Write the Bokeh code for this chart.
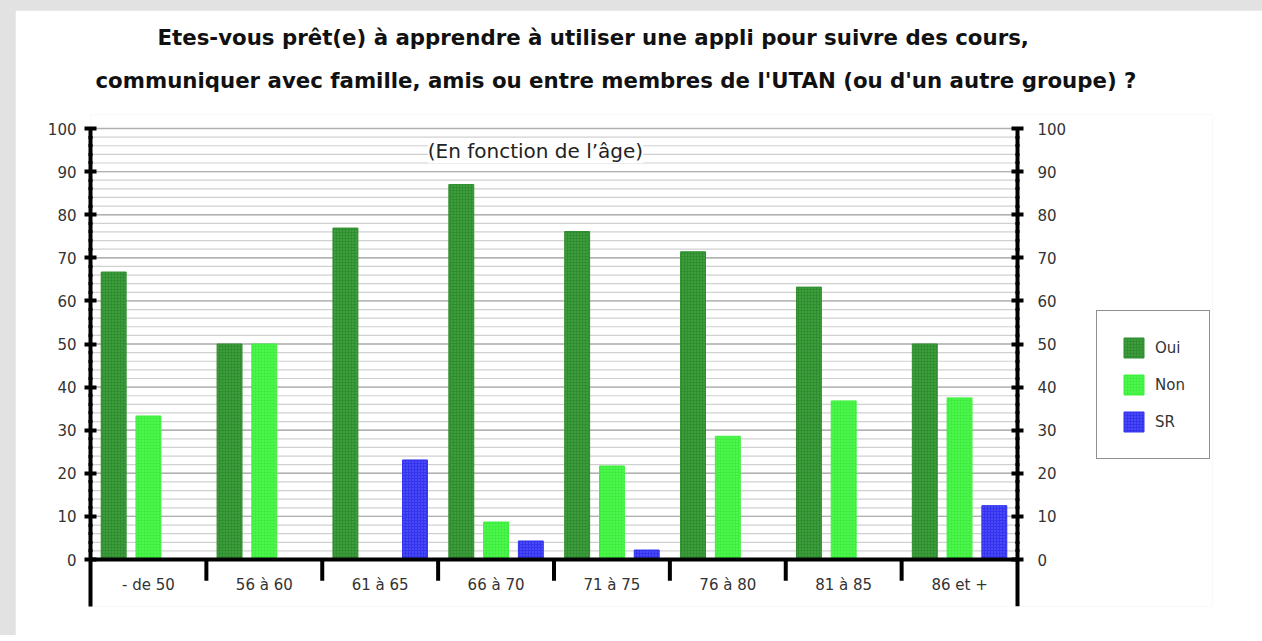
import numpy as np
from bokeh.plotting import figure
from bokeh.models import (Range1d, LinearAxis, FixedTicker, Label, ColumnDataSource,
                          Legend, LegendItem, Title)
from bokeh.layouts import column
from bokeh.core.properties import value
from bokeh.embed import file_html
from bokeh.resources import INLINE

categories = ["- de 50", "56 à 60", "61 à 65", "66 à 70", "71 à 75", "76 à 80", "81 à 85", "86 et +"]
oui = [66.7, 50.0, 76.9, 87.0, 76.1, 71.4, 63.2, 50.0]
non = [33.3, 50.0, 0.0, 8.7, 21.7, 28.6, 36.8, 37.5]
sr = [0.0, 0.0, 23.1, 4.3, 2.2, 0.0, 0.0, 12.5]
series_names = ["Oui", "Non", "SR"]
y_ticks = list(range(0, 101, 10))
y_minor = list(range(0, 101, 2))

title_1 = "Etes-vous prêt(e) à apprendre à utiliser une appli pour suivre des cours,"
title_2 = "communiquer avec famille, amis ou entre membres de l'UTAN (ou d'un autre groupe) ?"
subtitle = "(En fonction de l’âge)"

FONT = "DejaVu Sans"
n = len(categories)
centers = np.arange(n) + 0.5

# layout geometry (pixels on the canvas)
W, H = 1247, 625
left_px, right_border = 75, 50
top_px, bottom_border = 104, 29
y_low, y_top_tick = -10.9, 100.0
py = 478.0 / (y_top_tick - y_low)          # px per y unit (100 at 118px, -10.9 at 596px)
y_end = y_top_tick + (118 - top_px) / py
px_per_unit = 927.0 / n                     # x=0 at 75px, x=n at 1002px
x_end = (W - right_border - left_px) / px_per_unit

p = figure(width=W, height=H, output_backend="svg", toolbar_location=None,
           x_range=Range1d(0, x_end), y_range=Range1d(y_low, y_end),
           x_axis_location=None, y_axis_location="left",
           min_border_left=left_px, min_border_right=right_border,
           min_border_top=top_px, min_border_bottom=bottom_border,
           background_fill_color="white", border_fill_color="white", outline_line_color=None)
p.xgrid.visible = False
p.ygrid.visible = False

ticker = FixedTicker(ticks=y_ticks, minor_ticks=y_minor)

def style_axis(ax):
    ax.ticker = ticker
    ax.bounds = (y_low, y_top_tick)
    ax.axis_line_width = 4
    ax.axis_line_color = "black"
    ax.major_tick_line_width = 4
    ax.major_tick_in = 6
    ax.major_tick_out = 6
    ax.minor_tick_line_width = 3
    ax.minor_tick_in = 2
    ax.minor_tick_out = 2
    ax.major_label_text_font = FONT
    ax.major_label_text_font_size = "15px"
    ax.major_label_text_color = "#333333"

# horizontal grid lines between the two axes
ymin = np.array(y_minor, dtype=float)
p.segment(x0=np.zeros(len(ymin)), x1=np.full(len(ymin), n), y0=ymin, y1=ymin,
          line_color="#d0d0d0", line_width=1.2)
ymaj = np.array(y_ticks, dtype=float)
p.segment(x0=np.zeros(len(ymaj)), x1=np.full(len(ymaj), n), y0=ymaj, y1=ymaj,
          line_color="#b0b0b0", line_width=1.4)

style_axis(p.yaxis[0])
p.yaxis[0].major_label_standoff = 8
right_axis = LinearAxis(fixed_location=n)
style_axis(right_axis)
right_axis.major_label_standoff = 14
p.add_layout(right_axis, "right")

colors = ["#2f8f2f", "#3ef03e", "#3434f0"]
hatch_cols = ["#6fc36f", "#8cff8c", "#8c8cff"]
offsets = [-0.3, 0.0, 0.3]
renderers = []
for vals, name, c, hc, off in zip([oui, non, sr], series_names, colors, hatch_cols, offsets):
    src = ColumnDataSource(dict(x=centers + off, top=vals))
    r = p.vbar(x="x", top="top", bottom=0, width=0.215, source=src, fill_color=c,
               line_color=c, line_width=1, hatch_pattern="dot", hatch_color=hc,
               hatch_scale=3, hatch_alpha=0.6)
    renderers.append(r)

# baseline (x axis) and category separators
p.segment(x0=[0], x1=[n], y0=[0], y1=[0], line_color="black", line_width=4)
bounds = np.arange(1, n)
p.segment(x0=bounds, x1=bounds, y0=np.zeros(n - 1), y1=np.full(n - 1, -4.9),
          line_color="black", line_width=4)
p.text(x=centers, y=np.full(n, -6.0), text=categories, text_align="center",
       text_baseline="middle", text_font=value(FONT), text_font_size="15px",
       text_color="#333333")

p.add_layout(Label(x=3.84, y=94.7, text=subtitle, text_align="center", text_baseline="middle",
                   text_font=FONT, text_font_size="20px", text_color="#222222",
                   background_fill_color="white", background_fill_alpha=1.0))

# titles (spacer first = closest to the frame)
p.add_layout(Title(text=" ", text_font_size="10px", standoff=1), "above")
p.add_layout(Title(text=title_2, align="left", offset=5, text_font=FONT, text_font_style="bold",
                   text_font_size="21.3px", text_color="#111111", standoff=16), "above")
p.add_layout(Title(text=title_1, align="left", offset=67, text_font=FONT, text_font_style="bold",
                   text_font_size="21.3px", text_color="#111111", standoff=16), "above")

lg = Legend(items=[LegendItem(label=nm, renderers=[r]) for nm, r in zip(series_names, renderers)],
            location=(1006, 147))
lg.border_line_color = "#222222"
lg.border_line_width = 1.5
lg.background_fill_color = "white"
lg.padding = 24
lg.spacing = 12
lg.glyph_width = 25
lg.glyph_height = 25
lg.label_standoff = 9
lg.label_text_font = FONT
lg.label_text_font_size = "15px"
lg.label_text_color = "#333333"
lg.label_width = 28
lg.margin = 0
p.add_layout(lg, "center")

layout = column(p, styles={"background-color": "#e2e2e2", "padding": "10px 0px 0px 15px"})

open("out.html", "w").write(file_html(layout, INLINE))
